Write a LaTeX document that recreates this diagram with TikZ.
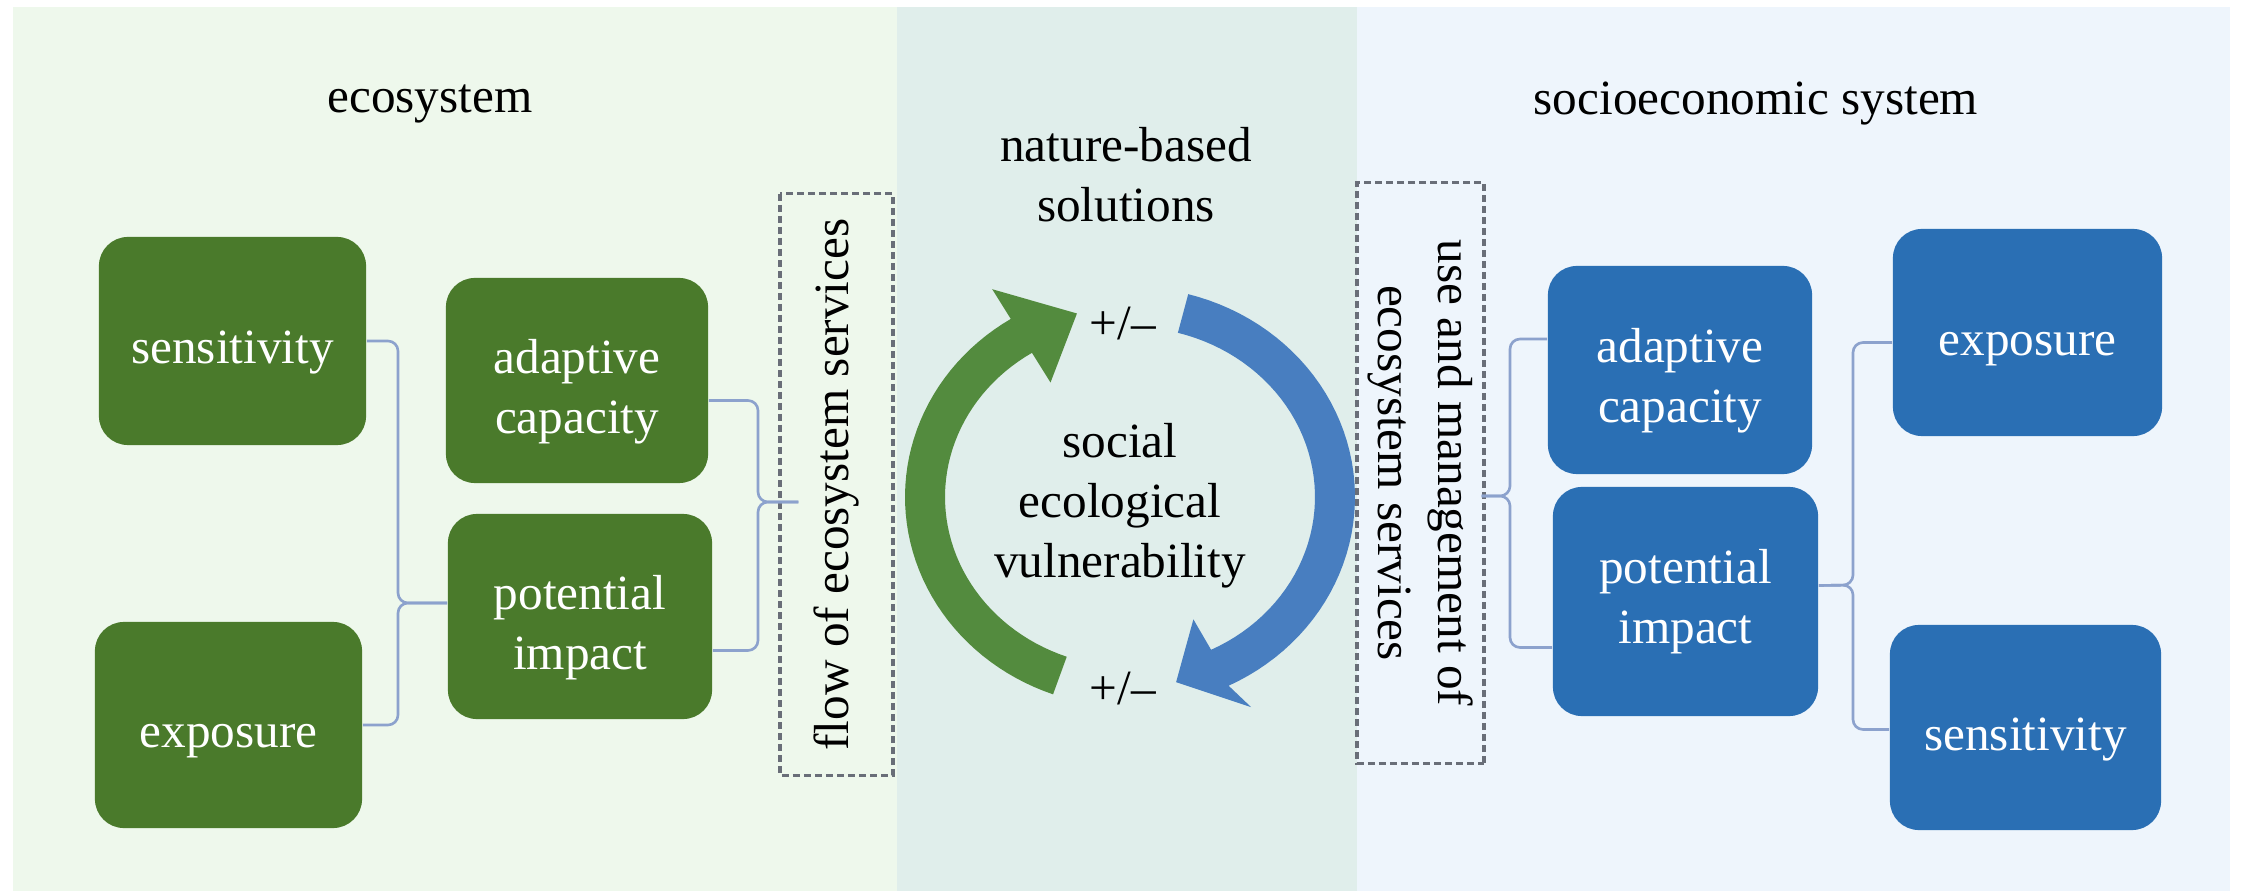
\documentclass[tikz,border=0pt]{standalone}
\usepackage{fontspec}
\setmainfont{Liberation Serif}
\usetikzlibrary{calc}

\definecolor{panelL}{RGB}{238,248,236}
\definecolor{panelC}{RGB}{224,238,235}
\definecolor{panelR}{RGB}{238,245,252}
\definecolor{boxgreen}{RGB}{74,122,43}
\definecolor{boxblue}{RGB}{42,111,180}
\definecolor{arrowgreen}{RGB}{83,139,62}
\definecolor{arrowblue}{RGB}{72,126,192}
\definecolor{linkblue}{RGB}{140,162,205}
\definecolor{dashgray}{RGB}{105,110,120}

% struts that seat the box labels slightly below the box centre
\newcommand{\topstrut}{\rule{0pt}{17pt}}
\newcommand{\botstrut}{\rule[-4pt]{0pt}{4pt}}

\begin{document}
\begin{tikzpicture}[
  x=0.01cm, y=-0.01cm,
  font=\fontsize{14}{17}\selectfont,
  ecobox/.style={fill=boxgreen, text=white, rounded corners=0.29cm,
    align=center, inner sep=0pt},
  socbox/.style={fill=boxblue, text=white, rounded corners=0.29cm,
    align=center, inner sep=0pt},
  dashbox/.style={draw=dashgray, dash pattern=on 0.07cm off 0.04cm,
    line width=0.9pt, align=center, inner sep=0pt},
  link/.style={draw=linkblue, line width=0.75pt, rounded corners=0.1cm},
  caption/.style={text=black, align=center, inner sep=0pt}
]
% page and the three background panels
\fill[white] (0,0) rectangle (2244,891);
\useasboundingbox (0,0) rectangle (2244,891);
\fill[panelL] (13,7) rectangle (897,891);
\fill[panelC] (897,7) rectangle (1357,891);
\fill[panelR] (1357,7) rectangle (2230,891);

% headings
\node[caption] (hEco) at (430,104) {ecosystem};
\node[caption] (hSoc) at (1756,104) {socioeconomic system};
\node[caption] (hNbs) at (1126,175) {nature-based\\solutions};

% ecosystem side
\node[ecobox, minimum width=2.67cm, minimum height=2.08cm] (sensL) at (232.5,341) {\topstrut sensitivity\botstrut};
\node[ecobox, minimum width=2.67cm, minimum height=2.06cm] (expoL) at (228.5,725) {\topstrut exposure\botstrut};
\node[ecobox, minimum width=2.62cm, minimum height=2.05cm] (adapL) at (577,380.5) {\topstrut adaptive\\capacity\botstrut};
\node[ecobox, minimum width=2.64cm, minimum height=2.05cm] (poteL) at (580,616.5) {\topstrut potential\\impact\botstrut};
\node[dashbox, rotate=90, minimum width=5.81cm, minimum height=1.13cm] (dashL) at (836.5,484.5) {flow of ecosystem services};

% socioeconomic side
\node[dashbox, rotate=-90, minimum width=5.80cm, minimum height=1.27cm] (dashR) at (1420.5,473) {use and management of\\ecosystem services};
\node[socbox, minimum width=2.64cm, minimum height=2.08cm] (adapR) at (1680,370) {\topstrut adaptive\\capacity\botstrut};
\node[socbox, minimum width=2.65cm, minimum height=2.29cm] (poteR) at (1685.5,601.5) {potential\\impact};
\node[socbox, minimum width=2.69cm, minimum height=2.07cm] (expoR) at (2027.5,332.5) {\topstrut exposure\botstrut};
\node[socbox, minimum width=2.71cm, minimum height=2.05cm] (sensR) at (2025.5,727.5) {\topstrut sensitivity\botstrut};

% junctions of the brackets
\coordinate (jA) at (398,603);
\coordinate (jB) at (758,502);
\coordinate (jC) at (1510,496);
\coordinate (jD) at (1853,585);

\draw[link] (sensL.east) -| (jA) -- (jA -| poteL.west);
\draw[link] (expoL.east) -| (jA) -- (jA -| poteL.west);
\draw[link] ($(adapL.east)+(0,20)$) -| (jB) -- ($(dashL.north |- jB)+(20,0)$);
\draw[link] ($(poteL.east)+(0,34)$) -| (jB) -- ($(dashL.north |- jB)+(20,0)$);
\draw[link] ($(dashR.north |- jC)+(-4,0)$) -- (jC) |- ($(adapR.west)+(0,-31)$);
\draw[link] ($(dashR.north |- jC)+(-4,0)$) -- (jC) |- ($(poteR.west)+(0,46)$);
\draw[link] ($(poteR.east)+(0,-16)$) -- (jD) |- ($(expoR.west)+(0,10)$);
\draw[link] ($(poteR.east)+(0,-16)$) -- (jD) |- ($(sensR.west)+(0,2)$);

% feedback cycle: two curved arrows around the centre
\fill[arrowgreen]
  plot[domain=250:122, samples=50] ({1130+225*cos(\x)},{497-210*sin(\x)})
  -- ({1130+260*cos(122)},{497-245*sin(122)})
  -- ({1130+205*cos(105)},{497-190*sin(105)})
  -- ({1130+150*cos(122)},{497-135*sin(122)})
  -- plot[domain=122:250, samples=50] ({1130+185*cos(\x)},{497-170*sin(\x)})
  -- cycle;
\fill[arrowblue]
  plot[domain=75:-64, samples=50] ({1130+225*cos(\x)},{497-210*sin(\x)})
  -- ({1130+258*cos(-62)},{497-238*sin(-62)})
  -- ({1130+205*cos(-77)},{497-190*sin(-77)})
  -- ({1130+150*cos(-65)},{497-135*sin(-65)})
  -- plot[domain=-64:75, samples=50] ({1130+185*cos(\x)},{497-170*sin(\x)})
  -- cycle;

\node[caption] (pmTop) at (1123,324) {+/\textendash};
\node[caption] (pmBot) at (1123,689) {+/\textendash};
\node[caption] (sev) at (1120,506) {social\\ecological\\vulnerability};
\end{tikzpicture}
\end{document}
